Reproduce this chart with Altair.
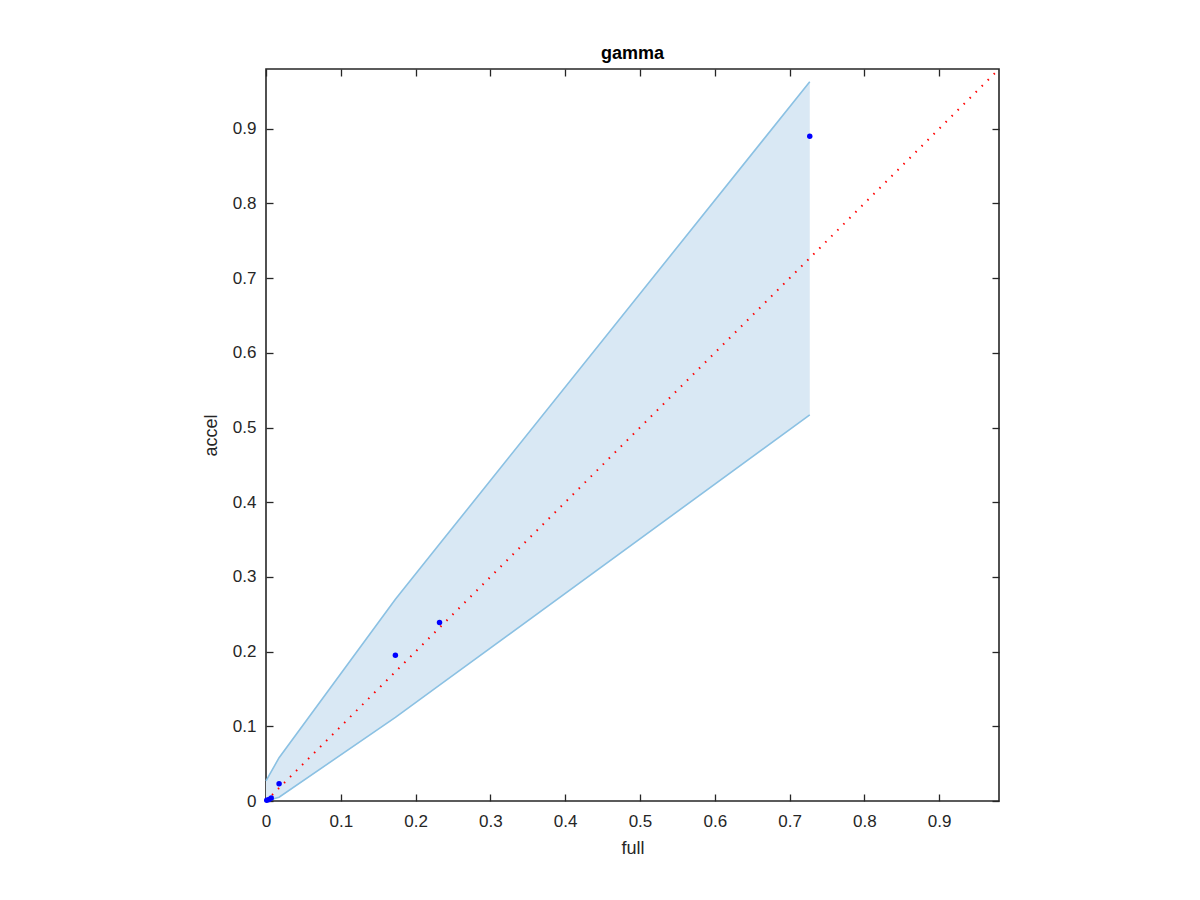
import altair as alt
import pandas as pd

# data
pt_x = [0.001, 0.004, 0.007, 0.0175, 0.173, 0.232, 0.727]
pt_y = [0.001, 0.002, 0.004, 0.023, 0.195, 0.239, 0.890]
band_x = [0.0, 0.0175, 0.173, 0.232, 0.727]
band_lo = [0.0, 0.005, 0.112, 0.155, 0.517]
band_hi = [0.027, 0.058, 0.270, 0.344, 0.963]
diag = [0.0, 0.98]
tick_vals = [0.0, 0.1, 0.2, 0.3, 0.4, 0.5, 0.6, 0.7, 0.8, 0.9]
lims = [0.0, 0.98]

pts = pd.DataFrame({"full": pt_x, "accel": pt_y})
band = pd.DataFrame({"full": band_x, "lo": band_lo, "hi": band_hi})
dline = pd.DataFrame({"full": diag, "accel": diag})

INK = "#262626"
FONT = "Liberation Sans"
TICK = 7

xs = alt.Scale(domain=lims, nice=False, zero=False)
ys = alt.Scale(domain=lims, nice=False, zero=False)

ax_common = dict(values=tick_vals, format=".1~f", grid=False, domain=False,
                 tickColor=INK, tickWidth=1.3, tickSize=TICK, offset=-TICK,
                 labelFlush=False, labelColor=INK, labelFont=FONT, labelFontSize=17,
                 titleColor=INK, titleFont=FONT, titleFontSize=18, titleFontWeight="normal")

x_bottom = alt.Axis(orient="bottom", title="full", labelPadding=12, titlePadding=10, **ax_common)
y_left = alt.Axis(orient="left", title="accel", labelPadding=10, titlePadding=12, **ax_common)
x_top = alt.Axis(orient="top", title=None, labels=False, values=tick_vals, grid=False, domain=False,
                 tickColor=INK, tickWidth=1.3, tickSize=TICK, offset=-TICK)
y_right = alt.Axis(orient="right", title=None, labels=False, values=tick_vals, grid=False, domain=False,
                   tickColor=INK, tickWidth=1.3, tickSize=TICK, offset=-TICK)

area = alt.Chart(band).mark_area(color="#d9e8f4", opacity=1).encode(
    x=alt.X("full:Q", scale=xs, axis=x_bottom),
    y=alt.Y("lo:Q", scale=ys, axis=y_left),
    y2="hi:Q",
)
lo_line = alt.Chart(band).mark_line(color="#8bc1e3", strokeWidth=1.6).encode(
    x=alt.X("full:Q", scale=xs, axis=None),
    y=alt.Y("lo:Q", scale=ys, axis=None),
)
hi_line = alt.Chart(band).mark_line(color="#8bc1e3", strokeWidth=1.6).encode(
    x=alt.X("full:Q", scale=xs, axis=None),
    y=alt.Y("hi:Q", scale=ys, axis=None),
)
red = alt.Chart(dline).mark_line(color="#ff0000", strokeWidth=2, strokeDash=[1.5, 7], strokeCap="butt").encode(
    x=alt.X("full:Q", scale=xs, axis=x_top),
    y=alt.Y("accel:Q", scale=ys, axis=y_right),
)
dots = alt.Chart(pts).mark_point(filled=True, shape="circle", size=30, color="#0000ff", opacity=1).encode(
    x=alt.X("full:Q", scale=xs, axis=None),
    y=alt.Y("accel:Q", scale=ys, axis=None),
)

chart = alt.layer(area, lo_line, hi_line, red, dots).resolve_axis(
    x="independent", y="independent"
).properties(
    width=733, height=732,
    background="white",
    title=alt.TitleParams("gamma", font=FONT, fontSize=18, fontWeight="bold", color="#000000", offset=2),
    autosize=alt.AutoSizeParams(type="none"),
    padding={"left": 258, "top": 61, "right": 180, "bottom": 85},
).configure_view(
    stroke=INK, strokeWidth=1.6
)

chart.save("out.html", embed_options={"renderer": "svg", "actions": False})
